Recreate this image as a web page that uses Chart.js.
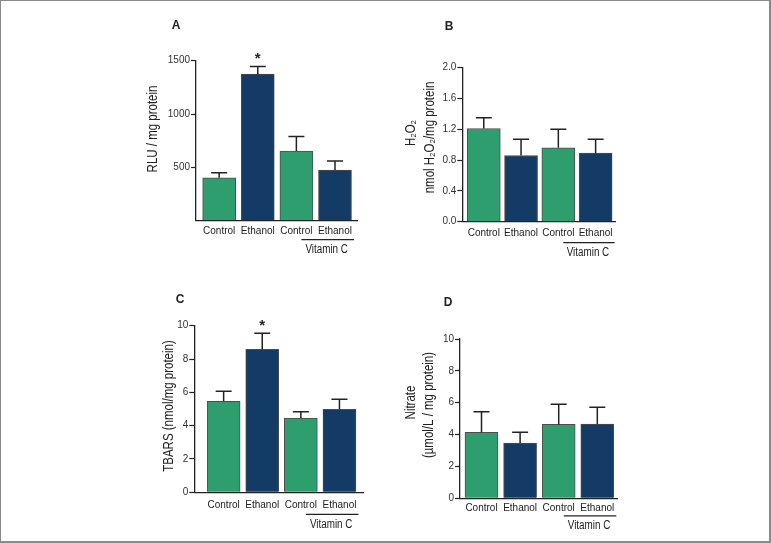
<!DOCTYPE html>
<html><head><meta charset="utf-8">
<script src="https://cdn.jsdelivr.net/npm/chart.js@4"></script>
<style>
html,body{margin:0;padding:0;background:#fff;}
#wrap{position:relative;width:771px;height:543px;overflow:hidden;background:#fff;}
#frame{position:absolute;left:0;top:0;width:771px;height:543px;box-sizing:border-box;border-left:1px solid #8a8a8a;border-top:1px solid #8a8a8a;border-right:2px solid #8a8a8a;border-bottom:2px solid #8a8a8a;pointer-events:none;}
canvas{position:absolute;left:0;top:0;}
</style></head>
<body><div id="wrap">
<canvas id="cA" width="771" height="543"></canvas>
<canvas id="cB" width="771" height="543"></canvas>
<canvas id="cC" width="771" height="543"></canvas>
<canvas id="cD" width="771" height="543"></canvas>
<div id="frame"></div>
</div>
<script>
// ---- data ----
const categories = ['Control', 'Ethanol', 'Control', 'Ethanol'];
const groupLabel = 'Vitamin C';
const barColors = ['#2e9e6e', '#143a66', '#2e9e6e', '#143a66'];

const rluValues = [402, 1374, 652, 474];
const rluErrors = [47, 72, 138, 85];
const rluSignificant = [false, true, false, false];

const h2o2Values = [1.21, 0.86, 0.96, 0.89];
const h2o2Errors = [0.14, 0.21, 0.24, 0.18];
const h2o2Significant = [false, false, false, false];

const tbarsValues = [5.46, 8.58, 4.46, 4.98];
const tbarsErrors = [0.60, 0.96, 0.38, 0.60];
const tbarsSignificant = [false, true, false, false];

const nitrateValues = [4.14, 3.47, 4.64, 4.66];
const nitrateErrors = [1.30, 0.67, 1.26, 1.05];
const nitrateSignificant = [false, false, false, false];

// ---- styling ----
const SANS = '"Liberation Sans", Arial, sans-serif';
const INK = '#222';
const CONDENSE = 0.82;

function condensedText(ctx, text, x, y, rotate) {
  ctx.save();
  ctx.translate(x, y);
  if (rotate) ctx.rotate(-Math.PI / 2);
  ctx.scale(CONDENSE, 1);
  ctx.fillText(text, 0, 0);
  ctx.restore();
}

const decorPlugin = {
  id: 'panelDecor',
  afterDatasetsDraw(chart, args, o) {
    const ctx = chart.ctx, xs = chart.scales.x, ys = chart.scales.y;
    ctx.save();
    // error bars + significance
    ctx.strokeStyle = INK; ctx.lineWidth = 1.5;
    o.values.forEach((v, i) => {
      const x = xs.getPixelForValue(i);
      const y0 = ys.getPixelForValue(v);
      const y1 = ys.getPixelForValue(v + o.errors[i]);
      ctx.beginPath();
      ctx.moveTo(x, y0); ctx.lineTo(x, y1);
      ctx.moveTo(x - 8, y1); ctx.lineTo(x + 8, y1);
      ctx.stroke();
      if (o.sig[i]) {
        ctx.fillStyle = INK;
        ctx.font = 'bold 15px ' + SANS;
        ctx.textAlign = 'center'; ctx.textBaseline = 'alphabetic';
        ctx.fillText('*', x, y1 - 3);
      }
    });
    // group underline + label
    const xa = xs.getPixelForValue(2) + 5, xb = xs.getPixelForValue(3) + 19;
    const ly = chart.chartArea.bottom + o.lineOffset;
    ctx.strokeStyle = INK; ctx.lineWidth = 1.2;
    ctx.beginPath(); ctx.moveTo(xa, ly); ctx.lineTo(xb, ly); ctx.stroke();
    ctx.fillStyle = INK;
    ctx.font = '12px ' + SANS;
    ctx.textAlign = 'center'; ctx.textBaseline = 'middle';
    condensedText(ctx, groupLabel, (xa + xb) / 2 - 1, ly + 10, false);
    // y titles
    ctx.font = '14px ' + SANS;
    ctx.textBaseline = 'alphabetic';
    o.titles.forEach(t => condensedText(ctx, t.text, t.x, t.y, true));
    // panel letter
    ctx.font = 'bold 12px ' + SANS;
    ctx.textBaseline = 'middle';
    ctx.fillText(o.letter.text, o.letter.x, o.letter.y);
    ctx.restore();
  }
};

function makePanel(id, values, errors, sig, p) {
  const YW = 40, XH = 30;
  new Chart(document.getElementById(id), {
    type: 'bar',
    data: {
      datasets: [{
        data: values.map((v, i) => ({ x: i, y: v })),
        backgroundColor: barColors,
        borderColor: '#4d4d4d',
        borderWidth: 1,
        barThickness: 33
      }]
    },
    options: {
      responsive: false,
      animation: false,
      layout: { padding: { left: p.left - YW, top: p.top, right: 771 - p.right, bottom: 543 - p.bottom - XH } },
      plugins: {
        legend: { display: false }, tooltip: { enabled: false },
        panelDecor: { values, errors, sig, titles: p.titles, letter: p.letter, lineOffset: p.lineOffset }
      },
      scales: {
        x: {
          type: 'linear', min: p.xMin, max: p.xMax, offset: false,
          afterBuildTicks: s => { s.ticks = categories.map((_, i) => ({ value: i })); },
          afterFit: s => { s.height = XH; },
          ticks: { callback: v => categories[v] ?? '', color: INK, font: { family: SANS, size: 10 }, padding: p.labelPad, maxRotation: 0, autoSkip: false },
          grid: { display: false, drawTicks: false, offset: false },
          border: { display: true, color: INK, width: 1.3 }
        },
        y: {
          min: 0, max: p.yMax,
          afterFit: s => { s.width = YW; },
          ticks: {
            stepSize: p.yStep,
            callback: v => (p.hideZero && v === 0) ? '' : v.toFixed(p.decimals),
            color: '#333', font: { family: SANS, size: 10 }, padding: 1
          },
          grid: {
            drawOnChartArea: false, drawTicks: true, tickLength: 5,
            tickColor: c => (p.hideZero && c.tick && c.tick.value === 0) ? 'rgba(0,0,0,0)' : INK,
            tickWidth: 1.2
          },
          border: { display: true, color: INK, width: 1.3 }
        }
      }
    },
    plugins: [decorPlugin]
  });
}

makePanel('cA', rluValues, rluErrors, rluSignificant, {
  left: 196, right: 357, top: 60.7, bottom: 220.6, xMin: -0.6, xMax: 3.57,
  yMax: 1500, yStep: 500, decimals: 0, hideZero: true, labelPad: 5, lineOffset: 19,
  titles: [{ text: 'RLU / mg protein', x: 156.7, y: 129 }],
  letter: { text: 'A', x: 176, y: 26 }
});
makePanel('cB', h2o2Values, h2o2Errors, h2o2Significant, {
  left: 462.3, right: 615, top: 67.7, bottom: 221.7, xMin: -0.576, xMax: 3.52,
  yMax: 2.0, yStep: 0.4, decimals: 1, hideZero: false, labelPad: 5.5, lineOffset: 21,
  titles: [{ text: 'H₂O₂', x: 415, y: 133 }, { text: 'nmol H₂O₂/mg protein', x: 434, y: 137.5 }],
  letter: { text: 'B', x: 449, y: 27 }
});
makePanel('cC', tbarsValues, tbarsErrors, tbarsSignificant, {
  left: 194.3, right: 363, top: 325.7, bottom: 492.3, xMin: -0.76, xMax: 3.61,
  yMax: 10, yStep: 2, decimals: 0, hideZero: false, labelPad: 6.5, lineOffset: 22,
  titles: [{ text: 'TBARS (nmol/mg protein)', x: 173.3, y: 406 }],
  letter: { text: 'C', x: 180, y: 300 }
});
makePanel('cD', nitrateValues, nitrateErrors, nitrateSignificant, {
  left: 460, right: 617, top: 339, bottom: 498.3, xMin: -0.557, xMax: 3.51,
  yMax: 10, yStep: 2, decimals: 0, hideZero: false, labelPad: 4, lineOffset: 17.5,
  titles: [{ text: 'Nitrate', x: 415, y: 402.5 }, { text: '(µmol/L / mg protein)', x: 433, y: 405 }],
  letter: { text: 'D', x: 448, y: 302.5 }
});
</script>
</body></html>
